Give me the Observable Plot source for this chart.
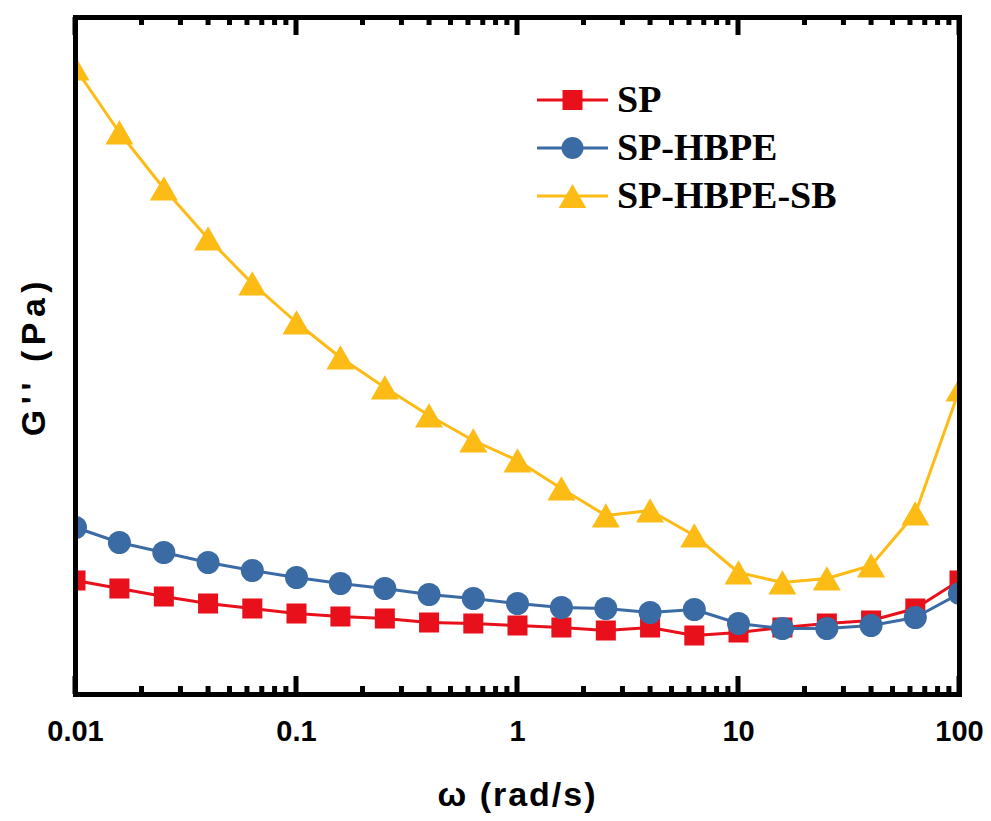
<!DOCTYPE html>
<html>
<head>
<meta charset="utf-8">
<script src="https://cdn.jsdelivr.net/npm/d3@7"></script>
<script src="https://cdn.jsdelivr.net/npm/@observablehq/plot@0.6"></script>
<style>
  html, body { margin: 0; padding: 0; background: #fff; }
  #chart { position: relative; width: 991px; height: 821px; }
</style>
</head>
<body>
<div id="chart"></div>
<script>
// ---- data (G'' in arbitrary units, no y ticks in original) ----
const omega = [0.01, 0.0158, 0.0251, 0.0398, 0.0631, 0.1, 0.158, 0.251, 0.398, 0.631,
               1, 1.58, 2.51, 3.98, 6.31, 10, 15.8, 25.1, 39.8, 63.1, 100];
const gSP       = [114, 106, 98, 91, 86, 81, 78, 76, 72, 71, 69, 67, 64, 67, 59, 62, 67, 71, 74, 86, 114];
const gSPHBPE   = [167, 152, 142, 132, 124, 117, 111, 106, 100, 96, 91, 87, 86, 82, 85, 71, 66, 66, 69, 77, 101];
const gSPHBPESB = [626, 562, 506, 456, 411, 372, 337, 307, 279, 254, 234, 206, 179, 184, 159, 122, 112, 116, 129, 181, 305];

const seriesNames   = ["SP", "SP-HBPE", "SP-HBPE-SB"];
const seriesColors  = ["#e8101a", "#3b6ba5", "#fdbb16"];
const seriesSymbols = ["square", "circle", "triangle"];
const seriesValues  = [gSP, gSPHBPE, gSPHBPESB];

const majorTicks = [0.01, 0.1, 1, 10, 100];
const tickLabels = ["0.01", "0.1", "1", "10", "100"];
const minorTicks = [0.02,0.03,0.04,0.05,0.06,0.07,0.08,0.09,
                    0.2,0.3,0.4,0.5,0.6,0.7,0.8,0.9,
                    2,3,4,5,6,7,8,9,
                    20,30,40,50,60,70,80,90];

const xLabel = "ω (rad/s)";
const yLabel = "G'' (Pa)";

// ---- tidy table built from the arrays ----
const rows = seriesNames.flatMap((s, si) => omega.map((w, i) => ({series: s, w, g: seriesValues[si][i]})));

const markStyle = {
  square:   {r: 11.3, dy: 0},
  circle:   {r: 11.5, dy: 0},
  triangle: {r: 10.4, dy: 4}
};

const seriesMarks = seriesNames.flatMap((s, si) => {
  const d = rows.filter(r => r.series === s);
  const sym = seriesSymbols[si];
  return [
    Plot.line(d, {x: "w", y: "g", stroke: seriesColors[si], strokeWidth: 3, clip: true}),
    Plot.dot(d, {x: "w", y: "g", symbol: sym, r: markStyle[sym].r, dy: markStyle[sym].dy,
                 fill: seriesColors[si], stroke: "none", clip: true})
  ];
});

const chartW = 991, chartH = 821, mTop = 17, mBottom = 127, mLeft = 75, mRight = 32;

const fmt = d => tickLabels[majorTicks.indexOf(d)] ?? "";

const plot = Plot.plot({
  width: chartW,
  height: chartH,
  marginLeft: mLeft,
  marginRight: mRight,
  marginTop: mTop,
  marginBottom: mBottom,
  x: {type: "log", domain: [0.01, 100]},
  y: {domain: [0, 677]},
  style: {fontFamily: "'Liberation Sans', Arial, sans-serif", background: "#fff", color: "#000"},
  marks: [
    ...seriesMarks,
    Plot.axisX({anchor: "bottom", ticks: majorTicks, tickSize: 0, tickPadding: 26, tickFormat: fmt,
                fontSize: 29, fontWeight: "bold", label: xLabel, labelAnchor: "center", labelArrow: "none",
                labelOffset: 111}),
    Plot.axisY({anchor: "left", ticks: [], tickSize: 0, label: yLabel, labelAnchor: "center", labelArrow: "none",
                labelOffset: 55, fontSize: 34, fontWeight: "bold"}),
    Plot.frame({stroke: "#000", strokeWidth: 5})
  ]
});

document.getElementById("chart").appendChild(plot);

const svg = d3.select(plot);
svg.selectAll('g[aria-label="x-axis label"] text').attr("font-size", 34).attr("font-weight", "bold").style("letter-spacing", "2px");
svg.selectAll('g[aria-label="y-axis label"] text').attr("font-size", 34).attr("font-weight", "bold").style("letter-spacing", "5.5px");

// ---- inward ticks on the bottom and top edges, placed with Plot's own x scale ----
const xs = plot.scale("x");
const yBottom = chartH - mBottom, yTop = mTop;
const tickG = svg.append("g").attr("class", "inward-ticks").attr("stroke", "#000").attr("stroke-width", 5);
[[majorTicks, 18], [minorTicks, 8]].forEach(([ticks, len]) => {
  ticks.forEach(t => {
    const x = xs.apply(t);
    tickG.append("line").attr("x1", x).attr("x2", x).attr("y1", yBottom).attr("y2", yBottom - len);
    tickG.append("line").attr("x1", x).attr("x2", x).attr("y1", yTop).attr("y2", yTop + len);
  });
});

// ---- legend (inside the plot, top right) ----
const legend = svg.append("g").attr("class", "legend").attr("text-anchor", "start");
const lx0 = 537, lx1 = 608, ltx = 617, ly0 = 100, lstep = 48;
const sym = {square: d3.symbolSquare, circle: d3.symbolCircle, triangle: d3.symbolTriangle};
const legendSize = {square: 400, circle: 380, triangle: 330};
seriesNames.forEach((s, i) => {
  const y = ly0 + i * lstep;
  const g = legend.append("g");
  g.append("line").attr("x1", lx0).attr("x2", lx1).attr("y1", y).attr("y2", y)
    .attr("stroke", seriesColors[i]).attr("stroke-width", 3);
  const k = seriesSymbols[i];
  g.append("path").attr("d", d3.symbol(sym[k], legendSize[k])())
    .attr("transform", `translate(${(lx0 + lx1) / 2},${y + (k === "triangle" ? 4 : 0)})`)
    .attr("fill", seriesColors[i]);
  g.append("text").attr("x", ltx).attr("y", y + 12).attr("text-anchor", "start")
    .attr("font-family", "'Liberation Serif', 'Times New Roman', serif")
    .attr("font-weight", "bold").attr("font-size", 38).attr("fill", "#000")
    .text(s);
});
</script>
</body>
</html>
